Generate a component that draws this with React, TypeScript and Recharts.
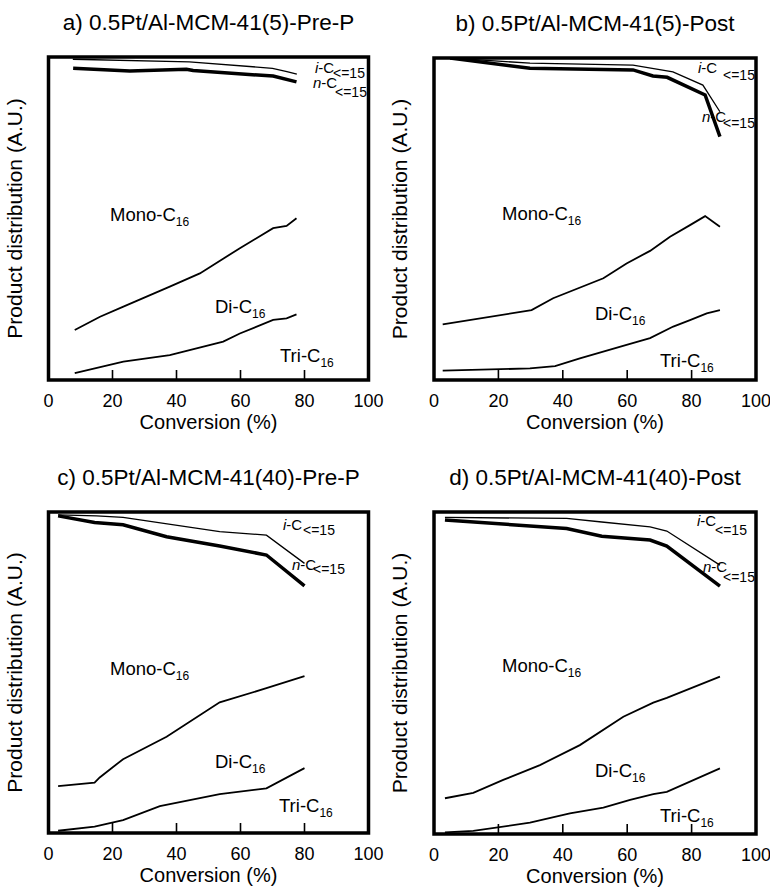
import { LineChart, Line, XAxis, YAxis, ReferenceArea } from 'recharts';

type P = [number, number];

// a) 0.5Pt/Al-MCM-41(5)-Pre-P
const aIso: P[] = [[7.6, 99.3], [44, 98.5], [70, 96.5], [74.5, 95.5], [77.6, 94.7]];
const aNor: P[] = [[7.7, 96.5], [25.4, 95.7], [43.1, 96.2], [45.2, 95.8], [70.2, 94.1], [77.5, 92.3]];
const aMono: P[] = [[8.2, 15.5], [16.1, 19.6], [23.4, 22.7], [37.9, 28.9], [47.3, 33.0], [59.8, 40.8], [70.2, 47.0], [74.4, 47.7], [77.5, 50.1]];
const aDi: P[] = [[8.2, 2.1], [23.4, 5.7], [37.9, 7.7], [54.6, 11.9], [59.8, 14.4], [70.2, 18.6], [74.4, 19.1], [77.5, 20.3]];

// b) 0.5Pt/Al-MCM-41(5)-Post
const bIso: P[] = [[5, 100], [29.8, 98.4], [61.8, 97.8], [74.2, 95.7], [83.5, 91.6], [88.8, 83.3]];
const bNor: P[] = [[5, 100], [29.8, 96.8], [61.8, 96.3], [68, 94.4], [72.4, 94.0], [84.2, 88.5], [88.8, 75.6]];
const bMono: P[] = [[2.7, 17.3], [30.3, 21.7], [37, 25.4], [52.6, 31.6], [59.8, 36.2], [67.1, 40.1], [73.3, 44.5], [79.5, 48.1], [84.2, 50.9], [88.8, 47.6]];
const bDi: P[] = [[2.7, 2.9], [29.8, 3.6], [37.6, 4.3], [45.3, 6.7], [59.8, 10.9], [67.1, 13.0], [74.3, 16.6], [79.5, 18.6], [84.7, 20.7], [88.8, 21.7]];

// c) 0.5Pt/Al-MCM-41(40)-Pre-P
const cIso: P[] = [[3, 99.1], [15, 98.8], [23.3, 98.3], [53.5, 93.9], [68.1, 92.8], [80, 84.0]];
const cNor: P[] = [[3, 98.8], [14.4, 96.7], [23.3, 96.0], [36.9, 92.3], [53.5, 89.4], [68.1, 86.6], [80, 77.0]];
const cMono: P[] = [[3, 14.6], [14.4, 15.7], [16, 17.3], [23.3, 23.0], [36.9, 30.0], [53.5, 40.7], [68.1, 45.1], [80, 48.9]];
const cDi: P[] = [[3, 0.7], [14.4, 2.0], [23.3, 4.0], [34.8, 8.4], [53.5, 12.1], [68.1, 13.9], [80, 20.2]];

// d) 0.5Pt/Al-MCM-41(40)-Post
const dIso: P[] = [[3.4, 98.3], [41.2, 98.0], [52.1, 96.9], [67.1, 95.4], [72.3, 94.1], [88.8, 83.5]];
const dNor: P[] = [[3.4, 97.5], [41.2, 94.9], [52.1, 92.5], [67.1, 91.3], [72.3, 89.4], [88.8, 77.0]];
const dMono: P[] = [[3.4, 11.1], [12.2, 12.8], [21.5, 16.8], [32.9, 21.4], [45.3, 27.6], [58.8, 36.4], [68.1, 40.8], [72.3, 42.3], [88.8, 48.9]];
const dDi: P[] = [[3.4, 0.5], [12.2, 1.0], [29.8, 3.5], [42.2, 6.4], [52.6, 8.2], [60.9, 10.6], [68.1, 12.4], [72.3, 13.1], [88.8, 20.4]];

const xTicks = [0, 20, 40, 60, 80, 100];
const titles = ['a) 0.5Pt/Al-MCM-41(5)-Pre-P', 'b) 0.5Pt/Al-MCM-41(5)-Post', 'c) 0.5Pt/Al-MCM-41(40)-Pre-P', 'd) 0.5Pt/Al-MCM-41(40)-Post'];

const FONT = '"Liberation Sans", Arial, sans-serif';
const W = 385;
const H = 445;
const XAXIS_H = 50;

// plot boxes in page pixels
const panels = [
  { title: titles[0], left: 0, top: 0, box: [48.5, 368.5, 57, 380], iso: aIso, nor: aNor, mono: aMono, di: aDi,
    lab: { iso: [315, 73], nor: [313, 88], isoSub: [333, 78], norSub: [335, 97], mono: [110, 221], di: [215, 313], tri: [280, 362] } },
  { title: titles[1], left: 385, top: 0, box: [434, 756, 58, 380], iso: bIso, nor: bNor, mono: bMono, di: bDi,
    lab: { iso: [698, 73], nor: [702, 122], isoSub: [723, 80], norSub: [723, 128], mono: [502, 220], di: [595, 320], tri: [660, 367] } },
  { title: titles[2], left: 0, top: 455, box: [48.5, 368.5, 512, 833], iso: cIso, nor: cNor, mono: cMono, di: cDi,
    lab: { iso: [283, 530], nor: [292, 570], isoSub: [303, 535], norSub: [313, 574], mono: [110, 675], di: [215, 768], tri: [279, 812] } },
  { title: titles[3], left: 385, top: 455, box: [434, 756, 512, 834], iso: dIso, nor: dNor, mono: dMono, di: dDi,
    lab: { iso: [697, 526], nor: [703, 572], isoSub: [715, 535], norSub: [723, 582], mono: [502, 672], di: [595, 777], tri: [660, 822] } },
];

const toData = (pts: P[]) => pts.map(([x, y]) => ({ x, y }));

const InTick = (props: any) => {
  const { x, y, payload } = props;
  return (
    <g>
      <line x1={x} x2={x} y1={y} y2={y - 10} stroke="#000" strokeWidth={1.6} />
      <text x={x} y={y + 27} textAnchor="middle" fontSize={18} fontFamily={FONT} fill="#000">
        {payload.value}
      </text>
    </g>
  );
};

function Panel({ p }: { p: (typeof panels)[number] }) {
  const [x0, x1, y0, y1] = p.box;
  const margin = { left: x0 - p.left, right: p.left + W - x1, top: y0 - p.top, bottom: p.top + H - y1 - XAXIS_H };
  return (
    <div style={{ position: 'absolute', left: p.left, top: p.top }}>
      <LineChart width={W} height={H} margin={margin}>
        <XAxis
          type="number"
          dataKey="x"
          domain={[0, 100]}
          ticks={xTicks}
          interval={0}
          allowDataOverflow
          height={XAXIS_H}
          axisLine={false}
          tickLine={false}
          tickSize={0}
          tickMargin={0}
          tick={<InTick />}
        />
        <YAxis type="number" dataKey="y" domain={[0, 100]} hide allowDataOverflow />
        <Line data={toData(p.mono)} dataKey="y" stroke="#000" strokeWidth={1.8} dot={false} isAnimationActive={false} />
        <Line data={toData(p.di)} dataKey="y" stroke="#000" strokeWidth={1.8} dot={false} isAnimationActive={false} />
        <Line data={toData(p.iso)} dataKey="y" stroke="#000" strokeWidth={1.3} dot={false} isAnimationActive={false} />
        <Line data={toData(p.nor)} dataKey="y" stroke="#000" strokeWidth={3.5} dot={false} isAnimationActive={false} />
        <ReferenceArea x1={0} x2={100} y1={0} y2={100} fill="none" stroke="#000" strokeWidth={3.5} />
      </LineChart>
    </div>
  );
}

function C16({ at, name }: { at: number[]; name: string }) {
  return (
    <text x={at[0]} y={at[1]} fontSize={18.5} fontFamily={FONT} fill="#000">
      {name}-C
      <tspan fontSize={12} dy={5}>16</tspan>
    </text>
  );
}

function Sub15({ at, sub, prefix }: { at: number[]; sub: number[]; prefix: string }) {
  return (
    <text x={at[0]} y={at[1]} fontSize={15}>
      <tspan fontStyle="italic">{prefix}</tspan>-C
      <tspan x={sub[0]} y={sub[1]} fontSize={14}>{'<=15'}</tspan>
    </text>
  );
}

function Texts() {
  return (
    <svg width={770} height={889} style={{ position: 'absolute', left: 0, top: 0, pointerEvents: 'none' }}>
      {panels.map((p, i) => {
        const [x0, x1, y0, y1] = p.box;
        const cx = (x0 + x1) / 2;
        const cy = (y0 + y1) / 2;
        const ylx = x0 - 27;
        return (
          <g key={i} fontFamily={FONT} fill="#000">
            <text x={cx} y={y0 - 27} textAnchor="middle" fontSize={22.5}>{p.title}</text>
            <text x={cx} y={y1 + 49} textAnchor="middle" fontSize={20}>Conversion (%)</text>
            <text x={ylx} y={cy} textAnchor="middle" fontSize={21} transform={`rotate(-90 ${ylx} ${cy})`}>
              Product distribution (A.U.)
            </text>
            <Sub15 at={p.lab.iso} sub={p.lab.isoSub} prefix="i" />
            <Sub15 at={p.lab.nor} sub={p.lab.norSub} prefix="n" />
            <C16 at={p.lab.mono} name="Mono" />
            <C16 at={p.lab.di} name="Di" />
            <C16 at={p.lab.tri} name="Tri" />
          </g>
        );
      })}
    </svg>
  );
}

export default function App() {
  return (
    <div style={{ position: 'absolute', left: 0, top: 0, width: 770, height: 889, background: '#fff', fontFamily: FONT }}>
      {panels.map((p, i) => (
        <Panel key={i} p={p} />
      ))}
      <Texts />
    </div>
  );
}
